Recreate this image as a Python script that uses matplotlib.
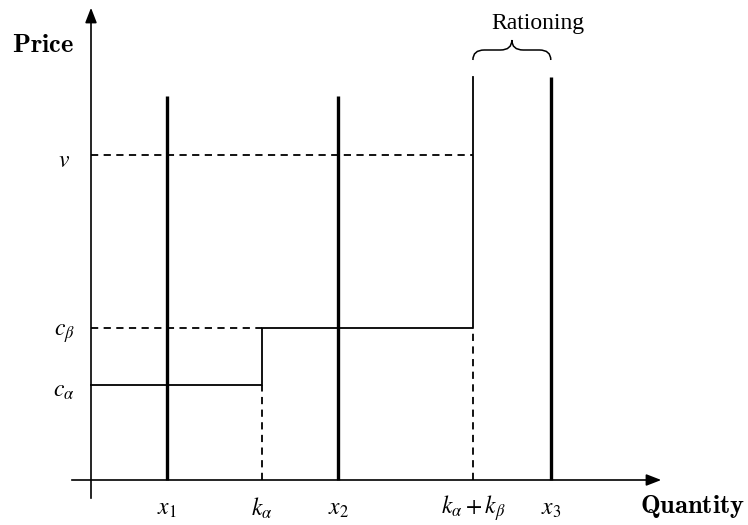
import matplotlib.pyplot as plt
from matplotlib.path import Path
from matplotlib.patches import PathPatch

# quantities on the horizontal axis
demand_q = [2.0, 6.5, 12.1]          # x1, x2, x3
demand_top = [10.1, 10.1, 10.6]
cap_alpha = 4.5                        # k_alpha
cap_total = 10.05                      # k_alpha + k_beta
# prices
v = 8.55
c_alpha = 2.5
c_beta = 4.0
supply_top = 10.6

x_labels = ['$x_1$', '$k_\\alpha$', '$x_2$', '$k_\\alpha+k_\\beta$', '$x_3$']
x_label_pos = [demand_q[0], cap_alpha, demand_q[1], cap_total, demand_q[2]]
y_labels = ['$v$', '$c_\\beta$', '$c_\\alpha$']
y_label_pos = [v, c_beta, c_alpha]

px = 38.0  # pixels per unit
fig = plt.figure(figsize=(7.48, 5.25), dpi=100)
ax = fig.add_axes([0, 0, 1, 1])
ax.set_xlim(-91 / px, (748 - 91) / px)
ax.set_ylim(-(525 - 480) / px, 480 / px)
ax.axis('off')

# axes with arrow heads
ax.plot([-19 / px, 560 / px], [0, 0], color='k', lw=1.2)
ax.plot([0, 0], [-18 / px, 465 / px], color='k', lw=1.2)
head = dict(arrowstyle='-|>,head_length=0.9,head_width=0.35', color='k', lw=1.2)
ax.annotate('', xy=(573 / px, 0), xytext=(555 / px, 0), arrowprops=head)
ax.annotate('', xy=(0, 475 / px), xytext=(0, 455 / px), arrowprops=head)

# demand (vertical thick lines)
for q, top in zip(demand_q, demand_top):
    ax.plot([q, q], [0, top], color='k', lw=2.4, solid_capstyle='butt')

# supply step curve
ax.plot([0, cap_alpha, cap_alpha, cap_total, cap_total],
        [c_alpha, c_alpha, c_beta, c_beta, supply_top],
        color='k', lw=1.3)

# dashed guides
dash = dict(color='k', lw=1.3, ls=(0, (4, 3)))
ax.plot([0, cap_total], [v, v], **dash)
ax.plot([0, cap_alpha], [c_beta, c_beta], **dash)
ax.plot([cap_alpha, cap_alpha], [0, c_alpha], **dash)
ax.plot([cap_total, cap_total], [0, c_beta], **dash)

# tick labels
for lab, pos in zip(x_labels, x_label_pos):
    ax.text(pos, -28 / px, lab, ha='center', va='center', fontsize=17,
            math_fontfamily='stix')
for lab, pos in zip(y_labels, y_label_pos):
    ax.text(-27 / px, pos - 0.12, lab, ha='center', va='center', fontsize=17,
            math_fontfamily='stix')

ax.text(-79 / px, 435 / px, r'$\mathbf{Price}$', ha='left', va='center',
        fontsize=19, math_fontfamily='cm')
ax.text(549 / px, -26 / px, r'$\mathbf{Quantity}$', ha='left', va='center',
        fontsize=19, math_fontfamily='cm')

# brace over the rationing gap
x0, x1 = cap_total, demand_q[2]
xm = (x0 + x1) / 2
yb, yh, yt = 420 / px, 430 / px, 440 / px
verts = [(x0, yb),
         (x0, yh), (x0 + 0.3, yh),
         (xm - 0.3, yh),
         (xm, yh), (xm, yt),
         (xm, yh), (xm + 0.3, yh),
         (x1 - 0.3, yh),
         (x1, yh), (x1, yb)]
codes = [Path.MOVETO,
         Path.CURVE3, Path.CURVE3,
         Path.LINETO,
         Path.CURVE3, Path.CURVE3,
         Path.CURVE3, Path.CURVE3,
         Path.LINETO,
         Path.CURVE3, Path.CURVE3]
ax.add_patch(PathPatch(Path(verts, codes), fc='none', ec='k', lw=1.1))
ax.text(447 / px, 456 / px, 'Rationing', ha='center', va='center',
        fontsize=17, family='Liberation Serif')

fig.savefig('out.png', dpi=100)
